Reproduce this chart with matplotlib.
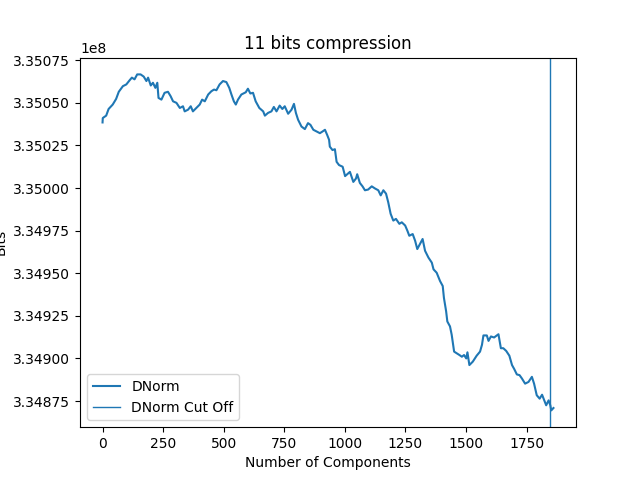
import numpy as np
import matplotlib
matplotlib.use("Agg")
import matplotlib.pyplot as plt

# values
components = [0, 1, 15, 25, 42, 56, 67, 84, 98, 112, 121, 132, 143, 157, 170, 181, 188, 199, 208, 218,
              226, 231, 243, 256, 270, 281, 291, 305, 319, 332, 339, 353, 364, 373, 387, 401, 411, 422,
              436, 449, 460, 470, 483, 497, 511, 523, 532, 542, 550, 559, 573, 591, 600, 610, 621, 632,
              647, 663, 670, 683, 697, 707, 718, 731, 742, 752, 766, 780, 790, 798, 807, 821, 835, 848,
              858, 870, 884, 897, 908, 918, 927, 935, 938, 949, 959, 966, 976, 991, 1001, 1010, 1021,
              1035, 1046, 1051, 1062, 1073, 1083, 1096, 1111, 1125, 1138, 1148, 1159, 1170, 1179, 1189,
              1200, 1211, 1225, 1235, 1249, 1258, 1266, 1280, 1290, 1299, 1310, 1321, 1331, 1345, 1359,
              1366, 1379, 1393, 1404, 1409, 1418, 1423, 1434, 1441, 1451, 1462, 1473, 1483, 1492, 1501,
              1506, 1514, 1528, 1544, 1558, 1566, 1572, 1586, 1593, 1603, 1616, 1634, 1644, 1654, 1666,
              1679, 1690, 1699, 1710, 1721, 1731, 1744, 1758, 1772, 1781, 1792, 1804, 1814, 1823, 1831,
              1841, 1848, 1852, 1861]
bits = [335038500, 335041100, 335042500, 335046400, 335049000, 335052300, 335056500, 335059800,
        335060800, 335063300, 335064800, 335063800, 335066700, 335066700, 335065400, 335062800,
        335064800, 335060200, 335061800, 335058800, 335061800, 335052900, 335051900, 335055900,
        335056500, 335053900, 335050900, 335050000, 335047000, 335048000, 335045000, 335046000,
        335048000, 335045000, 335047000, 335049000, 335051900, 335050900, 335054900, 335056800,
        335057800, 335057400, 335060800, 335062800, 335062200, 335058800, 335054900, 335050900,
        335049000, 335051900, 335054900, 335056200, 335058300, 335055500, 335055900, 335050900,
        335047000, 335045000, 335042500, 335044100, 335045000, 335047600, 335045000, 335048400,
        335046400, 335048000, 335043600, 335046000, 335049400, 335044100, 335040100, 335036100,
        335034600, 335038100, 335037100, 335034200, 335033200, 335032200, 335033200, 335034200,
        335031200, 335028300, 335024300, 335022300, 335022800, 335015400, 335013500, 335012500,
        335007000, 335008100, 335009500, 335003600, 335005600, 335008100, 335003000, 335001000,
        334998700, 334999100, 335001000, 334999700, 334998700, 334995700, 334998700, 334996700,
        334991700, 334984900, 334980900, 334981900, 334979000, 334979900, 334978000, 334975000,
        334972000, 334973000, 334969100, 334964200, 334967100, 334970100, 334963200, 334959200,
        334956200, 334952300, 334950300, 334945400, 334942500, 334935500, 334927700, 334921700,
        334918800, 334913900, 334904000, 334903000, 334902000, 334901000, 334902000, 334900000,
        334903600, 334896100, 334898100, 334901600, 334904000, 334908000, 334913500, 334913500,
        334910300, 334912900, 334912300, 334914200, 334906000, 334906000, 334904400, 334901600,
        334896100, 334893800, 334890600, 334890200, 334888200, 334885200, 334886200, 334889200,
        334885200, 334878400, 334876400, 334878700, 334875400, 334872500, 334875400, 334872500,
        334869500, 334870900]
cut_off = 1848

fig, ax = plt.subplots(figsize=(6.4, 4.8), dpi=100)
ax.plot(components, bits, label="DNorm")
ax.axvline(cut_off, linewidth=1, label="DNorm Cut Off")
ax.set_title("11 bits compression")
ax.set_xlabel("Number of Components")
ax.set_ylabel("Bits")
ax.legend(loc="lower left")
fig.savefig("out.png")
